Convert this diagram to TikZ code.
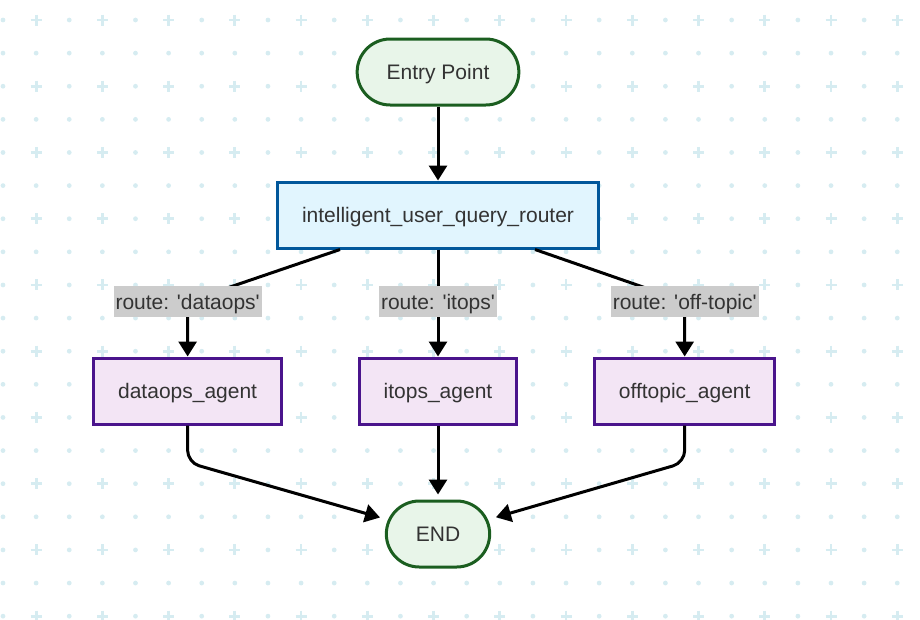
\documentclass[tikz,border=0pt]{standalone}
\usepackage{fontspec}
\newfontfamily\diagfont{Liberation Sans}
\usetikzlibrary{arrows.meta,positioning}

\definecolor{termfill}{HTML}{E8F5E9}
\definecolor{termline}{HTML}{1B5E20}
\definecolor{routerfill}{HTML}{E1F5FE}
\definecolor{routerline}{HTML}{01579B}
\definecolor{agentfill}{HTML}{F3E5F5}
\definecolor{agentline}{HTML}{4A148C}
\definecolor{labelgray}{HTML}{CCCCCC}
\definecolor{textgray}{HTML}{333333}
\definecolor{gridcyan}{RGB}{214,236,241}

\begin{document}
\begin{tikzpicture}[
  x = 1pt, y = -1pt,
  node distance = 74pt and 75pt,
  > = {Triangle[length=15pt, width=18pt]},
  box/.style = {rectangle, draw, line width=3pt, minimum height=66pt,
                font=\diagfont\fontsize{21}{25}\selectfont, text=textgray,
                text height=15pt, text depth=0pt},
  term/.style = {box, rounded corners=33pt, fill=termfill, draw=termline,
                 inner xsep=29.5pt},
  router/.style = {box, fill=routerfill, draw=routerline, inner xsep=24.3pt},
  agent/.style = {box, fill=agentfill, draw=agentline, inner xsep=24.3pt},
  lbl/.style = {rectangle, fill=labelgray, inner xsep=2pt, inner ysep=0pt,
                minimum height=31pt, text=textgray,
                font=\diagfont\fontsize{21}{25}\selectfont,
                text height=15pt, text depth=0pt},
  edge/.style = {draw, line width=3pt, ->},
  gridplus/.style = {draw=gridcyan, line width=2.8pt}
]
\useasboundingbox (0,0) rectangle (920,619);

% background grid
\foreach \i in {0,...,27}
  \foreach \j in {0,...,18}{
    \pgfmathsetmacro{\gx}{3+33.12*\i}
    \pgfmathsetmacro{\gy}{20+33.12*\j}
    \pgfmathtruncatemacro{\isplus}{(mod(\i,2)==1) && (mod(\j,2)==0)}
    \ifnum\isplus=1
      \draw[gridplus] (\gx-5.5,\gy) -- (\gx+5.5,\gy) (\gx,\gy-5.5) -- (\gx,\gy+5.5);
    \else
      \fill[gridcyan] (\gx,\gy) circle[radius=2.4pt];
    \fi
  }

% nodes
\node[term] (entry) at (438,72) {Entry Point};
\node[router, below=of entry] (router) {intelligent\_user\_query\_router};
\node[agent, below=107pt of router] (itops) {itops\_agent};
\node[agent, left=of itops] (dataops) {dataops\_agent};
\node[agent, right=of itops] (offtopic) {offtopic\_agent};
\node[term, below=of itops] (end) {END};

% split points for the routes
\coordinate[above=55pt of dataops.north] (dsplit);
\coordinate[above=55pt of itops.north] (isplit);
\coordinate[above=55pt of offtopic.north] (osplit);
\coordinate[below=37pt of dataops.south] (dbend);
\coordinate[below=37pt of offtopic.south] (obend);

% arrows
\draw[edge] (entry) -- (router);
\draw[edge] ([xshift=-98pt]router.south) -- (dsplit)
  node[lbl] {route: 'dataops'} -- (dataops);
\draw[edge] (router) -- (isplit)
  node[lbl] {route: 'itops'} -- (itops);
\draw[edge] ([xshift=97pt]router.south) -- (osplit)
  node[lbl] {route: 'off-topic'} -- (offtopic);

\draw[edge, rounded corners=12pt, shorten >=5pt] (dataops) -- (dbend) -- (end);
\draw[edge, shorten >=5pt] (itops) -- (end);
\draw[edge, rounded corners=12pt, shorten >=5pt] (offtopic) -- (obend) -- (end);
\end{tikzpicture}
\end{document}
